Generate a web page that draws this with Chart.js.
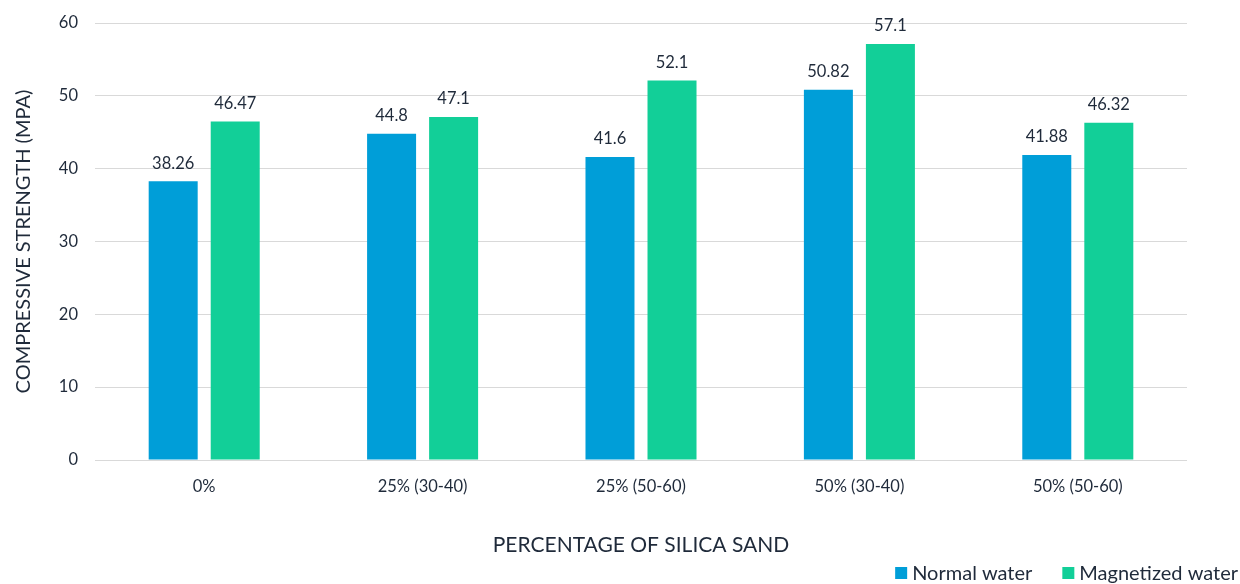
<!DOCTYPE html>
<html>
<head>
<meta charset="utf-8">
<script src="https://cdn.jsdelivr.net/npm/chart.js@4/dist/chart.umd.min.js"></script>
<style>
html,body{margin:0;padding:0;background:#fff;}
#wrap{width:1240px;height:584px;position:relative;}
</style>
</head>
<body>
<div id="wrap"><canvas id="c"></canvas></div>
<script>
const categories = ['0%', '25% (30-40)', '25% (50-60)', '50% (30-40)', '50% (50-60)'];
const normalWater = [38.26, 44.8, 41.6, 50.82, 41.88];
const magnetizedWater = [46.47, 47.1, 52.1, 57.1, 46.32];
const yTicks = [0, 10, 20, 30, 40, 50, 60];

const TEXT = '#1f2a3a';
const FONT = 'Lato, "Open Sans", sans-serif';

const valueLabels = {
  id: 'valueLabels',
  afterDatasetsDraw(chart) {
    const ctx = chart.ctx;
    ctx.save();
    ctx.fillStyle = TEXT;
    ctx.font = '16.5px ' + FONT;
    ctx.textAlign = 'center';
    ctx.textBaseline = 'middle';
    chart.data.datasets.forEach((ds, i) => {
      const meta = chart.getDatasetMeta(i);
      meta.data.forEach((el, j) => {
        ctx.fillText(String(ds.data[j]), el.x, el.y - 18);
      });
    });
    ctx.restore();
  }
};

// legend drawn bottom-right from dataset labels/colours
const bottomLegend = {
  id: 'bottomLegend',
  afterDraw(chart) {
    const ctx = chart.ctx;
    ctx.save();
    ctx.font = '20px ' + FONT;
    ctx.textBaseline = 'middle';
    const box = 12, gapText = 5, gapItem = 30, y = 573;
    const items = chart.data.datasets.map(ds => ({ text: ds.label, color: ds.backgroundColor }));
    const widths = items.map(it => box + gapText + ctx.measureText(it.text).width);
    const total = widths.reduce((a, b) => a + b, 0) + gapItem * (items.length - 1);
    let x = chart.width - 2 - total;
    items.forEach((it, i) => {
      ctx.fillStyle = it.color;
      ctx.fillRect(x, y - box / 2, box, box);
      ctx.fillStyle = TEXT;
      ctx.textAlign = 'left';
      ctx.fillText(it.text, x + box + gapText, y + 1);
      x += widths[i] + gapItem;
    });
    ctx.restore();
  }
};

new Chart(document.getElementById('c'), {
  type: 'bar',
  data: {
    labels: categories,
    datasets: [
      { label: 'Normal water', data: normalWater, backgroundColor: '#009ed8', borderWidth: 0,
        categoryPercentage: 0.568, barPercentage: 0.79 },
      { label: 'Magnetized water', data: magnetizedWater, backgroundColor: '#12cf98', borderWidth: 0,
        categoryPercentage: 0.568, barPercentage: 0.79 }
    ]
  },
  options: {
    responsive: true,
    maintainAspectRatio: false,
    animation: false,
    devicePixelRatio: 1,
    layout: { padding: { left: 12, right: 53, top: 23, bottom: 26 } },
    plugins: {
      tooltip: { enabled: false },
      legend: { display: false }
    },
    scales: {
      x: {
        grid: { display: false },
        border: { display: false },
        ticks: { color: TEXT, font: { family: FONT, size: 16.5 }, padding: 9 },
        title: { display: true, text: 'PERCENTAGE OF SILICA SAND', color: TEXT,
                 font: { family: FONT, size: 21 }, padding: 0 },
        afterFit(s) { s.height = 98; }
      },
      y: {
        min: 0, max: 60,
        afterBuildTicks(s) { s.ticks = yTicks.map(v => ({ value: v })); },
        grid: { color: '#d9d9d9', lineWidth: 1, drawTicks: false },
        border: { display: false },
        ticks: { color: TEXT, font: { family: FONT, size: 16.5 }, padding: 17 },
        title: { display: true, text: 'COMPRESSIVE STRENGTH (MPA)', color: TEXT,
                 font: { family: FONT, size: 20 }, padding: 0 },
        afterFit(s) { s.width = 83; s.paddingTop = 0; s.paddingBottom = 0; }
      }
    }
  },
  plugins: [valueLabels, bottomLegend]
});
</script>
</body>
</html>
